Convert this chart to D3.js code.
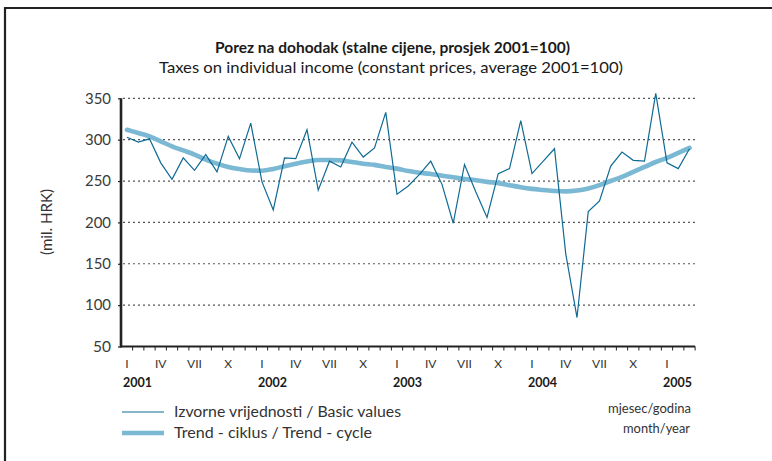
<!DOCTYPE html>
<html><head><meta charset="utf-8">
<script src="https://cdn.jsdelivr.net/npm/d3@7"></script>
<style>body{margin:0;background:#fff}</style>
</head><body><svg id="c" width="772" height="461"></svg>
<script>
const startYear = 2001;
const romanMonths = ["I","II","III","IV","V","VI","VII","VIII","IX","X","XI","XII"];
const shownMonths = ["I","IV","VII","X"];
const years = ["2001","2002","2003","2004","2005"];
const basicValues = [303,297,301,272,252,278,263,282,261,304,277,320,
  249,215,278,277,312,239,274,267,297,279,290,333,
  234,244,258,274,246,199,270,237,206,259,265,323,
  259,274,289,162,85,213,226,268,285,275,274,356,
  272,265,289];
const trendValues = [312,308,304,298,292,287,282,276,271,267,264.5,262.7,
  262.5,264.5,268,271,273.5,275.5,275.5,275,273,271,269.5,267,
  265,262,260,258.5,256.5,254.5,252.5,251,249,247.5,245,242.5,
  240.5,239.2,238,237.5,238.5,241,245,250,255,261,267,273,
  278,284,290];
const yTicks = [50,100,150,200,250,300,350];
const seriesNames = ["Izvorne vrijednosti / Basic values","Trend - ciklus / Trend - cycle"];

const categories = basicValues.map((d,i)=>{
  const y = startYear + Math.floor(i/12), m = i%12;
  return {key: y+"-"+(m+1), year: y, month: romanMonths[m], m};
});

const svg = d3.select("#c");
const FONT = "Lato, 'Open Sans', sans-serif";

// frame
svg.append("path").attr("d","M5,461 L5,8 L772,8").attr("fill","none").attr("stroke","#222").attr("stroke-width",2.2);

// titles
svg.append("text").attr("x",392.5).attr("y",52.5).attr("text-anchor","middle")
  .attr("font-family",FONT).attr("font-weight","bold").attr("font-size",15).attr("fill","#1a1a1a")
  .attr("textLength",355).attr("lengthAdjust","spacingAndGlyphs")
  .text("Porez na dohodak (stalne cijene, prosjek 2001=100)");
svg.append("text").attr("x",391).attr("y",72.5).attr("text-anchor","middle")
  .attr("font-family",FONT).attr("font-size",15).attr("fill","#1a1a1a")
  .attr("textLength",464).attr("lengthAdjust","spacingAndGlyphs")
  .text("Taxes on individual income (constant prices, average 2001=100)");

const x = d3.scalePoint().domain(categories.map(d=>d.key)).range([127, 689.5]);
const step = x.step();
const y = d3.scaleLinear().domain([50,350]).range([346.5, 98.3]);

// gridlines
svg.append("g").selectAll("line").data(yTicks.filter(d=>d>50)).join("line")
  .attr("x1",123).attr("x2",695).attr("y1",d=>y(d)).attr("y2",d=>y(d))
  .attr("stroke","#555").attr("stroke-width",1.2).attr("stroke-dasharray","2,3");

// y axis
const yAxis = d3.axisLeft(y).tickValues(yTicks).tickSize(3).tickPadding(8);
const gy = svg.append("g").attr("transform","translate(121,0)").call(yAxis);
gy.select(".domain").attr("stroke","#222").attr("stroke-width",2.6).attr("d","M0,"+y(350)+"V"+(y(50)+1));
gy.selectAll(".tick line").attr("stroke","#222").attr("stroke-width",1.2);
gy.selectAll(".tick text").attr("font-family",FONT).attr("font-size",15).attr("fill","#3a3a3a")
  .attr("textLength",26).attr("lengthAdjust","spacingAndGlyphs").attr("x",-10);
gy.selectAll(".tick").filter(d=>d===50).select("text").attr("textLength",18);

svg.append("text").attr("transform","translate(52,222) rotate(-90)").attr("text-anchor","middle")
  .attr("font-family",FONT).attr("font-size",15).attr("fill","#333")
  .attr("textLength",66).attr("lengthAdjust","spacingAndGlyphs").text("(mil. HRK)");

// x axis
const xb = d3.scaleLinear().domain([0, categories.length]).range([127-step/2, 127-step/2+step*categories.length]);
const gx = svg.append("g").attr("transform","translate(0,"+y(50)+")");
gx.append("line").attr("x1",121).attr("x2",xb(categories.length)).attr("y1",0).attr("y2",0)
  .attr("stroke","#222").attr("stroke-width",2.2);
gx.selectAll("line.tk").data(d3.range(1,categories.length+1)).join("line").attr("class","tk")
  .attr("x1",d=>xb(d)).attr("x2",d=>xb(d)).attr("y1",0).attr("y2",4)
  .attr("stroke","#222").attr("stroke-width",1);
gx.selectAll("text.mo").data(categories.filter(d=>shownMonths.includes(d.month))).join("text").attr("class","mo")
  .attr("x",d=>x(d.key)).attr("y",21).attr("text-anchor","middle")
  .attr("font-family",FONT).attr("font-size",12).attr("fill","#333").text(d=>d.month);
gx.selectAll("text.yr").data(years).join("text").attr("class","yr")
  .attr("x",d=>x(d+"-1")-4).attr("y",40)
  .attr("font-family",FONT).attr("font-weight","bold").attr("font-size",12.5).attr("fill","#1a1a1a")
  .attr("textLength",29).attr("lengthAdjust","spacingAndGlyphs").text(d=>d);

// lines
const line = (vals)=>d3.line().x((d,i)=>x(categories[i].key)).y(d=>y(d))(vals);
const trendLine = d3.line().curve(d3.curveMonotoneX).x((d,i)=>x(categories[i].key)).y(d=>y(d));
svg.append("path").attr("d",trendLine(trendValues)).attr("fill","none")
  .attr("stroke","#7bb8d3").attr("stroke-width",4.6).attr("stroke-linecap","round");
svg.append("path").attr("d",line(basicValues)).attr("fill","none")
  .attr("stroke","#0f6a94").attr("stroke-width",1.2).attr("stroke-linejoin","miter");

// legend
const leg = [{name:seriesNames[0],color:"#0f6a94",w:1.2,y:412,tl:227},{name:seriesNames[1],color:"#7bb8d3",w:4.6,y:433,tl:198}];
leg.forEach(l=>{
  svg.append("line").attr("x1",122).attr("x2",164).attr("y1",l.y).attr("y2",l.y).attr("stroke",l.color).attr("stroke-width",l.w);
  svg.append("text").attr("x",174).attr("y",l.y+5).attr("font-family",FONT).attr("font-size",14.5).attr("fill","#333")
    .attr("textLength",l.tl).attr("lengthAdjust","spacingAndGlyphs").text(l.name);
});
svg.append("text").attr("x",691).attr("y",413).attr("text-anchor","end").attr("font-family",FONT).attr("font-size",13).attr("fill","#333")
  .attr("textLength",83).attr("lengthAdjust","spacingAndGlyphs").text("mjesec/godina");
svg.append("text").attr("x",690).attr("y",433).attr("text-anchor","end").attr("font-family",FONT).attr("font-size",13).attr("fill","#333")
  .attr("textLength",67).attr("lengthAdjust","spacingAndGlyphs").text("month/year");
</script></body></html>
